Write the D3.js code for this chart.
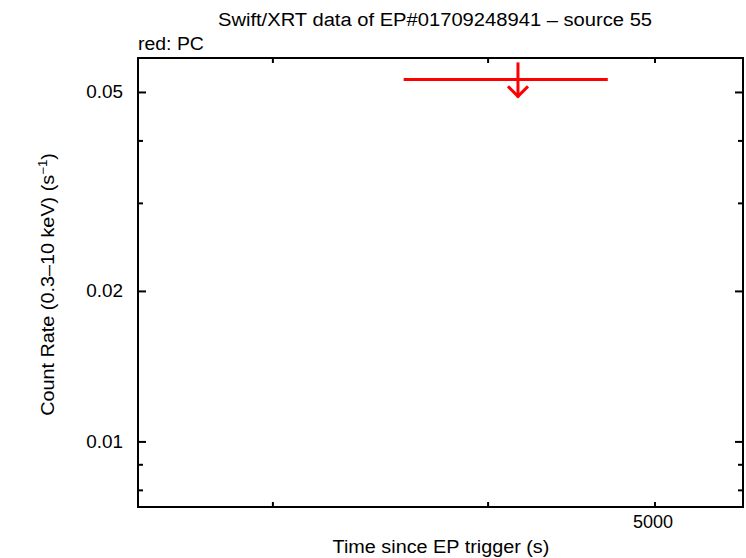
<!DOCTYPE html>
<html><head><meta charset="utf-8">
<script src="https://cdn.jsdelivr.net/npm/d3@7"></script>
<style>body{margin:0;background:#fff}svg{display:block}text{font-family:"Liberation Sans",Arial,sans-serif;fill:#000}</style>
</head><body>
<script>
// Data (upper limit, PC mode)
const tStart = [3573];
const tStop = [4694];
const tMid = [4163];
const rate = [0.0531];
const xMajorTicks = [5000];
const xMinorTicks = [3000, 4000, 5000];
const yMajorTicks = [0.01, 0.02, 0.05];
const yMinorTicks = [0.008, 0.009, 0.03, 0.04];
const yTickLabels = ["0.01", "0.02", "0.05"];

const W = 746, H = 558;
const m = {l: 138, r: 3, t: 58, b: 51};
const svg = d3.select("body").append("svg").attr("width", W).attr("height", H);

const x = d3.scaleLog().domain([2505, 5624]).range([m.l, W - m.r]);
const y = d3.scaleLog().domain([0.00741, 0.0586]).range([H - m.b, m.t]);

// widen text ~10% to match the reference face
function widen(sel, f) {
  sel.each(function () {
    const L = this.getComputedTextLength();
    d3.select(this).attr("textLength", L * f).attr("lengthAdjust", "spacingAndGlyphs");
  });
  return sel;
}

const g = svg.append("g");
g.append("rect").attr("x", m.l).attr("y", m.t).attr("width", W - m.r - m.l).attr("height", H - m.b - m.t)
  .attr("fill", "none").attr("stroke", "#000").attr("stroke-width", 2);

const yt = [...yMajorTicks.map(v => ({v, len: 8})), ...yMinorTicks.map(v => ({v, len: 5}))];
yt.forEach(d => {
  g.append("line").attr("x1", m.l).attr("x2", m.l + d.len).attr("y1", y(d.v)).attr("y2", y(d.v)).attr("stroke", "#000").attr("stroke-width", 2);
  g.append("line").attr("x1", W - m.r).attr("x2", W - m.r - d.len).attr("y1", y(d.v)).attr("y2", y(d.v)).attr("stroke", "#000").attr("stroke-width", 2);
});
yMajorTicks.forEach((v, i) => {
  widen(g.append("text").attr("x", m.l - 15).attr("y", y(v) + 6).attr("text-anchor", "end")
    .attr("font-size", 18).text(yTickLabels[i]), 1.05);
});
xMinorTicks.forEach(v => {
  g.append("line").attr("x1", x(v)).attr("x2", x(v)).attr("y1", H - m.b).attr("y2", H - m.b - 5).attr("stroke", "#000").attr("stroke-width", 2);
  g.append("line").attr("x1", x(v)).attr("x2", x(v)).attr("y1", m.t).attr("y2", m.t + 5).attr("stroke", "#000").attr("stroke-width", 2);
});
xMajorTicks.forEach(v => {
  widen(g.append("text").attr("x", x(v) - 2).attr("y", H - m.b + 21).attr("text-anchor", "middle").attr("font-size", 18)
    .text(d3.format("d")(v)), 1.0);
});

widen(svg.append("text").attr("x", 435).attr("y", 26).attr("text-anchor", "middle").attr("font-size", 18)
  .text("Swift/XRT data of EP#01709248941 \u2013 source 55"), 1.12);
widen(svg.append("text").attr("x", 138).attr("y", 50).attr("font-size", 18).text("red: PC"), 1.08);
widen(svg.append("text").attr("x", 441).attr("y", 553).attr("text-anchor", "middle").attr("font-size", 18)
  .text("Time since EP trigger (s)"), 1.1);
const yl = svg.append("text").attr("transform", `translate(54,${(m.t + H - m.b) / 2 + 2}) rotate(-90)`)
  .attr("text-anchor", "middle").attr("font-size", 18);
yl.append("tspan").text("Count Rate (0.3\u201310 keV) (s");
yl.append("tspan").attr("dy", -7).attr("font-size", 12).text("\u22121");
yl.append("tspan").attr("dy", 7).text(")");
widen(yl, 1.1);

const red = "#ff0000";
tMid.forEach((t, i) => {
  g.append("line").attr("x1", x(tStart[i])).attr("x2", x(tStop[i])).attr("y1", y(rate[i])).attr("y2", y(rate[i]))
    .attr("stroke", red).attr("stroke-width", 3);
  const top = y(rate[i]) - 17, tip = y(rate[i]) + 18;
  g.append("line").attr("x1", x(t)).attr("x2", x(t)).attr("y1", top).attr("y2", tip).attr("stroke", red).attr("stroke-width", 3);
  g.append("path").attr("d", `M${x(t) - 10},${tip - 11}L${x(t)},${tip - 1}L${x(t) + 10},${tip - 11}`)
    .attr("fill", "none").attr("stroke", red).attr("stroke-width", 3);
});
</script>
</body></html>
